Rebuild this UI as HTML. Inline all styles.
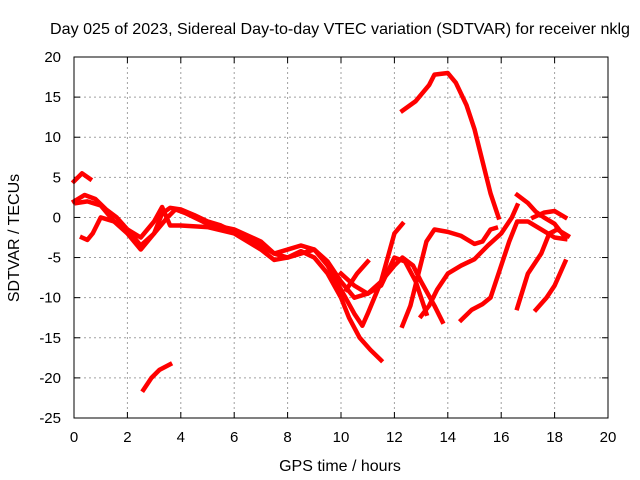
<!DOCTYPE html>
<html><head><meta charset="utf-8"><style>
body{margin:0;background:#fff}
svg{display:block;font-family:"Liberation Sans",sans-serif}
</style></head><body>
<svg id="chart" width="640" height="480" viewBox="0 0 640 480" xmlns="http://www.w3.org/2000/svg">
<text x="340" y="34" font-size="16" text-anchor="middle" textLength="580" lengthAdjust="spacingAndGlyphs">Day 025 of 2023, Sidereal Day-to-day VTEC variation (SDTVAR) for receiver nklg</text>
<text x="340" y="471" font-size="16" text-anchor="middle">GPS time / hours</text>
<text x="19" y="238" font-size="16" text-anchor="middle" transform="rotate(-90 19 238)">SDTVAR / TECUs</text>
<g id="grid"></g>
<g id="axes"></g>
<g id="series"></g>
<rect x="74" y="57" width="534" height="361" fill="none" stroke="#000" stroke-width="1"/>
</svg>
<script>
const xTicks=[0,2,4,6,8,10,12,14,16,18,20];
const yTicks=[20,15,10,5,0,-5,-10,-15,-20,-25];
const traceA=[[0,4.5],[0.3,5.5],[0.6,4.8]];
const traceB=[[0,2],[0.4,2.8],[0.8,2.3],[1.2,1],[1.6,0],[2,-1.5],[2.5,-3.5],[3,-2],[3.3,0.5],[3.6,1.2],[4,1],[4.5,0.3],[5,-0.5],[5.5,-1],[6,-1.8],[6.5,-2.5],[7,-3.5],[7.5,-4.5],[8,-4],[8.5,-3.5],[9,-4],[9.5,-5.5],[10,-8],[10.5,-10],[11,-9.5],[11.5,-8],[12,-6],[12.3,-5],[12.7,-6],[13,-8],[13.5,-11],[13.8,-13]];
const traceC=[[0.3,-2.5],[0.5,-2.8],[0.7,-2],[1,0],[1.5,-0.5],[2,-2],[2.5,-4],[3,-2],[3.5,0],[3.8,1],[4.2,0.5],[5,-0.8],[6,-1.5],[7,-3],[7.5,-4.5],[8,-5],[8.5,-4.5],[9,-4],[9.5,-6],[10,-9],[10.5,-12],[10.8,-13.5],[11,-12],[11.5,-8],[12,-2],[12.3,-0.8]];
const traceD=[[0.1,1.8],[0.5,2],[1,1.5],[1.5,-0.5],[2,-1.5],[2.5,-2.5],[3,-0.5],[3.3,1.3],[3.6,-1],[4,-1],[5,-1.2],[6,-2],[7,-4],[7.5,-5.3],[8,-5],[8.5,-4.2],[9,-5],[9.5,-7],[10,-10],[10.3,-12.5],[10.7,-15],[11.1,-16.5],[11.5,-17.8]];
const traceE=[[2.6,-21.5],[2.9,-20],[3.2,-19],[3.6,-18.3]];
const traceF=[[12.3,13.3],[12.8,14.5],[13.3,16.5],[13.5,17.8],[14,18],[14.3,16.8],[14.7,14],[15,11],[15.3,7],[15.6,3],[15.9,0]];
const traceG=[[12.3,-13.5],[12.6,-11],[12.9,-7],[13.2,-3],[13.5,-1.5],[14,-1.8],[14.5,-2.3],[15,-3.3],[15.3,-3],[15.6,-1.5],[15.8,-1.3]];
const traceH=[[14.5,-12.8],[14.9,-11.5],[15.3,-10.8],[15.6,-10],[16,-6],[16.3,-3],[16.6,-0.5],[17,-0.5],[17.5,-1.5],[18,-2.5],[18.4,-2.7]];
const traceI=[[13,-12.3],[13.3,-11],[13.6,-9],[14,-7],[14.5,-6],[15,-5.2],[15.5,-3.5],[16,-2],[16.4,0],[16.6,1.5]];
const traceJ=[[16.6,-11.3],[17,-7],[17.5,-4.5],[17.8,-2],[18.1,-1.5],[18.5,-2.3]];
const traceK=[[16.6,2.8],[17,1.8],[17.3,0.7],[17.6,0],[18,-0.8],[18.4,-2.5]];
const traceL=[[17.2,0],[17.6,0.6],[18,0.8],[18.4,0]];
const traceM=[[17.3,-11.5],[17.7,-10],[18,-8.5],[18.4,-5.5]];
const traceN=[[10,-7],[10.5,-8.5],[11,-9.5],[11.5,-8.5],[12,-5],[12.4,-5.5],[12.8,-8],[13.2,-12]];
const traceO=[[10.2,-9],[10.6,-7],[11,-5.5]];
const traces=[traceA,traceB,traceC,traceD,traceE,traceF,traceG,traceH,traceI,traceJ,traceK,traceL,traceM,traceN,traceO];

const X0=74,X1=608,Y0=57,Y1=418;
function sx(v){return X0+(v-0)/(20-0)*(X1-X0);}
function sy(v){return Y0+(20-v)/(20-(-25))*(Y1-Y0);}
const NS="http://www.w3.org/2000/svg";
const grid=document.getElementById('grid'),axes=document.getElementById('axes'),series=document.getElementById('series');
function mk(tag,attrs,parent){const e=document.createElementNS(NS,tag);for(const k in attrs)e.setAttribute(k,attrs[k]);parent.appendChild(e);return e;}
xTicks.forEach(t=>{
  const x=sx(t);
  if(t>0&&t<20){const g=mk('line',{x1:x,x2:x,y1:Y0,y2:Y1,stroke:'#a0a0a0','stroke-dasharray':'2,3'},grid);
  
  }
  mk('line',{x1:x,x2:x,y1:Y1,y2:Y1-6,stroke:'#000'},axes);
  mk('line',{x1:x,x2:x,y1:Y0,y2:Y0+6,stroke:'#000'},axes);
  const tx=mk('text',{x:x,y:Y1+24,'font-size':15,'text-anchor':'middle'},axes);
  tx.textContent=t;
  
  
});
yTicks.forEach(t=>{
  const y=sy(t);
  if(t<20&&t>-25){const g=mk('line',{x1:X0,x2:X1,y1:y,y2:y,stroke:'#a0a0a0','stroke-dasharray':'2,3'},grid);
  
  }
  mk('line',{x1:X0,x2:X0+6,y1:y,y2:y,stroke:'#000'},axes);
  mk('line',{x1:X1,x2:X1-6,y1:y,y2:y,stroke:'#000'},axes);
  const tx=mk('text',{x:X0-13,y:y+5,'font-size':15,'text-anchor':'end'},axes);
  tx.textContent=t;
  
  
});
traces.forEach((tr,i)=>{
  const p=mk('polyline',{points:tr.map(d=>sx(d[0])+','+sy(d[1])).join(' '),fill:'none',stroke:'#ff0000','stroke-width':4.5,'stroke-linejoin':'round','stroke-linecap':'square'},series);
  
  
});
</script>
</body></html>
